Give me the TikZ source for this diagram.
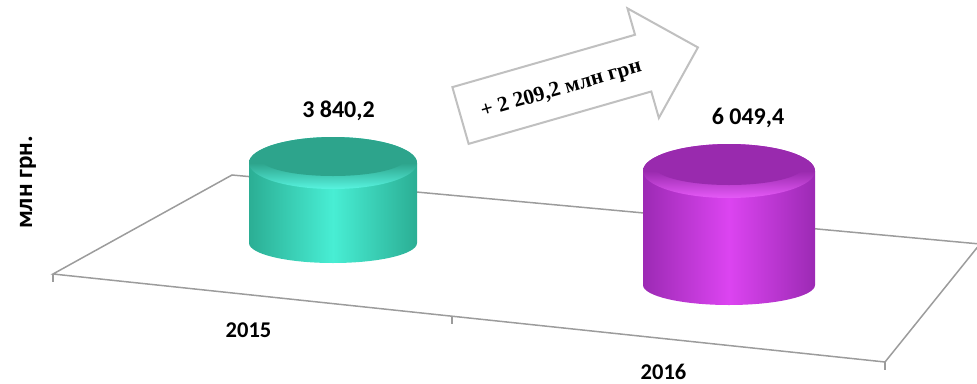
\documentclass[tikz,border=0pt]{standalone}
\usepackage{fontspec}
\setmainfont{Carlito}
\newfontfamily\serifbold{Liberation Serif}

\definecolor{turqdark}{HTML}{2BAE94}
\definecolor{turqlight}{HTML}{48EED4}
\definecolor{turqtop}{HTML}{2DA48C}
\definecolor{turqrim}{HTML}{58F4E0}
\definecolor{violdark}{HTML}{9C2AB4}
\definecolor{viollight}{HTML}{DC44F1}
\definecolor{violtop}{HTML}{992AAE}
\definecolor{violrim}{HTML}{E65AF8}
\definecolor{floorgray}{HTML}{9C9C9C}
\definecolor{arrowgray}{HTML}{C0C0C0}

\begin{document}
\begin{tikzpicture}[x=1pt, y=-1pt,
        floor/.style={draw=floorgray, line width=1.5pt},
        val/.style={font=\bfseries\fontsize{24}{28}\selectfont, anchor=base},
        year/.style={font=\bfseries\fontsize{22.5}{26}\selectfont, anchor=base},
        gainbox/.style={fill=white, draw=arrowgray, line width=2pt}
    ]
    \useasboundingbox (0,0) rectangle (977,383);
    \clip (0,0) rectangle (977,383);

    % floor
    \coordinate (fl) at (53,274);
    \coordinate (bl) at (232,175);
    \coordinate (br) at (980,244);
    \coordinate (fr) at (885,362);
    \coordinate (fm) at (452,316.2);
    \draw[floor] (fl) -- (bl) -- (br) -- (fr) -- cycle;
    \draw[floor] (fl) -- ++(0,8);
    \draw[floor] (fm) -- ++(0,8);
    \draw[floor] (fr) -- ++(0,8);

    % bars
    \foreach \cx/\rx/\yt/\rt/\yb/\rb/\dk/\lt/\tp/\rim in
        {333/84/163/26/243/20/turqdark/turqlight/turqtop/turqrim,
         729/86/171/27/285/20/violdark/viollight/violtop/violrim} {
        \path[left color=\dk, right color=\dk, middle color=\lt]
            (\cx-\rx,\yt) -- (\cx-\rx,\yb)
            arc[start angle=180, end angle=360, x radius=\rx pt, y radius=\rb pt]
            -- (\cx+\rx,\yt)
            arc[start angle=0, end angle=180, x radius=\rx pt, y radius=\rt pt] -- cycle;
        \path[top color=\tp, bottom color=\rim, middle color=\tp] (\cx,\yt) ellipse[x radius=\rx pt, y radius=\rt pt];
        \path[fill=\tp] (\cx,\yt-4) ellipse[x radius=\rx pt-12pt, y radius=\rt pt-9pt];
    }

    % growth arrow
    \begin{scope}[shift={(460.5,115.5)}, rotate=16]
        \draw[gainbox] (0,-29.5) -- (190,-29.5) -- (190,-57) -- (247,0)
            -- (190,57) -- (190,29.5) -- (0,29.5) -- cycle;
        \node[font=\serifbold\bfseries\fontsize{21.5}{25}\selectfont, rotate=16] (gain) at (104,3) {+ 2 209,2 млн грн};
    \end{scope}

    \node[val]  (v15) at (338.5,117) {3 840,2};
    \node[val]  (v16) at (748,124)   {6 049,4};
    \node[year] (y15) at (248.5,337) {2015};
    \node[year] (y16) at (663.5,379) {2016};
    \node[font=\bfseries\fontsize{25}{29}\selectfont, rotate=90, anchor=base] (unit) at (32,182.5) {млн грн.};
\end{tikzpicture}
\end{document}
